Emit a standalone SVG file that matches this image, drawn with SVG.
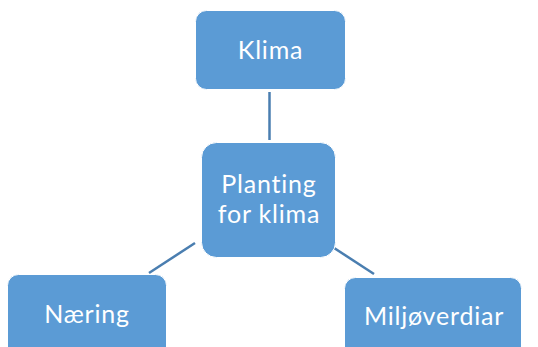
<svg xmlns="http://www.w3.org/2000/svg" width="538" height="347" viewBox="0 0 538 347">
<style>
.box{fill:#5B9BD5;stroke:#FFFFFF;stroke-width:1}
.lbl{fill:#FFFFFF;font-family:Lato,"Open Sans","Liberation Sans",sans-serif;font-size:25px;letter-spacing:0.8px;text-anchor:middle}
.con{stroke:#4A7EB0;stroke-width:2.5;fill:none}
</style>
<rect width="538" height="347" fill="#FFFFFF"/>
<g id="connectors">
<line class="con" x1="269.5" y1="92" x2="269.5" y2="140"/>
<line class="con" x1="195" y1="243" x2="149" y2="273"/>
<line class="con" x1="328" y1="244" x2="374" y2="274"/>
</g>
<g id="klima">
<rect class="box" x="195.5" y="10.5" width="150" height="79" rx="11"/>
<text class="lbl" x="270.5" y="59">Klima</text>
</g>
<g id="planting">
<rect class="box" x="201.5" y="142.5" width="134" height="115" rx="15"/>
<text class="lbl" x="269" y="192.5">Planting</text>
<text class="lbl" x="269" y="223">for klima</text>
</g>
<g id="naering">
<rect class="box" x="7.5" y="274.5" width="159" height="90" rx="11"/>
<text class="lbl" x="87" y="323">Næring</text>
</g>
<g id="miljoverdiar">
<rect class="box" x="344.5" y="277.5" width="177" height="90" rx="11"/>
<text class="lbl" x="434" y="324.5">Miljøverdiar</text>
</g>
</svg>
